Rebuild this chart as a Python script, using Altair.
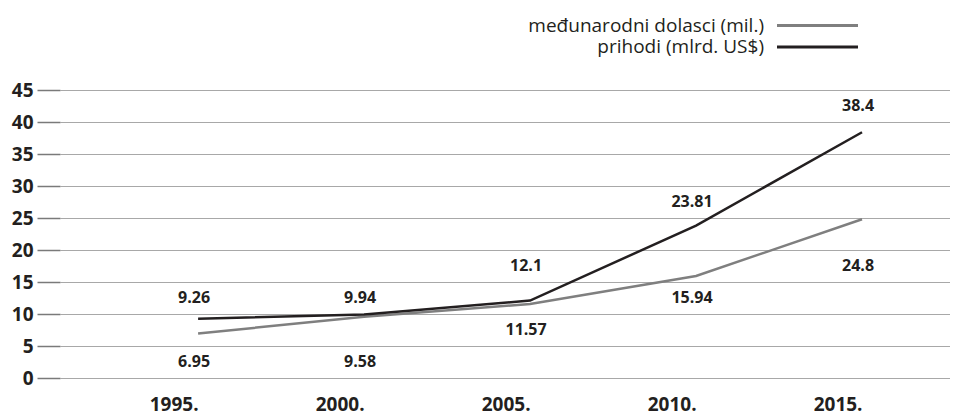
import altair as alt
import pandas as pd

years = [1995, 2000, 2005, 2010, 2015]
arrivals = [6.95, 9.58, 11.57, 15.94, 24.8]      # međunarodni dolasci (mil.)
revenue = [9.26, 9.94, 12.1, 23.81, 38.4]        # prihodi (mlrd. US$)
series_names = ["međunarodni dolasci (mil.)", "prihodi (mlrd. US$)"]
series_colors = ["#7f7f7f", "#231f20"]
y_ticks = [0, 5, 10, 15, 20, 25, 30, 35, 40, 45]

rows = []
for y, a, r in zip(years, arrivals, revenue):
    rows.append({"year": y, "series": series_names[0], "value": a, "label": str(a), "side": -1})
    rows.append({"year": y, "series": series_names[1], "value": r, "label": str(r), "side": 1})
df = pd.DataFrame(rows)

FONT = "Open Sans"
INK = "#231f20"

xscale = alt.Scale(domain=[1990.84, 2017.65], nice=False, zero=False)
yscale = alt.Scale(domain=[0, 45], nice=False)

x_axis = alt.Axis(values=years, labelExpr="datum.value + '.'", title=None,
                  grid=False, ticks=False, domain=False, labelAlign="right",
                  labelFont=FONT, labelFontWeight="bold", labelFontSize=19,
                  labelColor=INK, labelPadding=17, labelFlush=False,
                  labelOverlap=False)
y_axis = alt.Axis(values=y_ticks, title=None, domain=False, grid=True,
                  gridColor="#a8a8a8", gridWidth=1, tickColor="#7a7a7a",
                  tickSize=23, tickWidth=1.5, labelPadding=4,
                  labelOverlap=False,
                  labelFont=FONT, labelFontWeight="bold", labelFontSize=19,
                  labelColor=INK)

color = alt.Color("series:N",
                  scale=alt.Scale(domain=series_names, range=series_colors),
                  sort=series_names,
                  legend=alt.Legend(orient="none", legendX=747, legendY=-75,
                                    title=None, symbolType="M-4.5,0H4.5",
                                    symbolSize=324, symbolStrokeWidth=3,
                                    labelOffset={"expr": "-64"}, labelAlign="right",
                                    rowPadding=0.5, padding=0,
                                    labelFont=FONT, labelFontSize=19,
                                    labelColor=INK, labelLimit=0))

lines = alt.Chart(df).mark_line(strokeWidth=2.5).encode(
    x=alt.X("year:Q", scale=xscale, axis=x_axis),
    y=alt.Y("value:Q", scale=yscale, axis=y_axis),
    color=color, detail="series:N")

labels = alt.Chart(df).transform_calculate(
    ly="(floor(datum.value / 5) + datum.side) * 5 + 2.5"
).mark_text(font=FONT, fontWeight="bold", fontSize=16, color=INK,
            baseline="middle", align="center", dx=-4).encode(
    x=alt.X("year:Q", scale=xscale, axis=x_axis),
    y=alt.Y("ly:Q", scale=yscale, axis=y_axis),
    text="label:N")

chart = alt.layer(lines, labels).properties(
    width=890, height=288,
    padding={"left": 52, "top": 82, "right": 0, "bottom": 37},
    autosize=alt.AutoSizeParams(type="none"),
).configure_view(stroke=None)

chart.save("out.html", embed_options={"renderer": "svg", "actions": False})
